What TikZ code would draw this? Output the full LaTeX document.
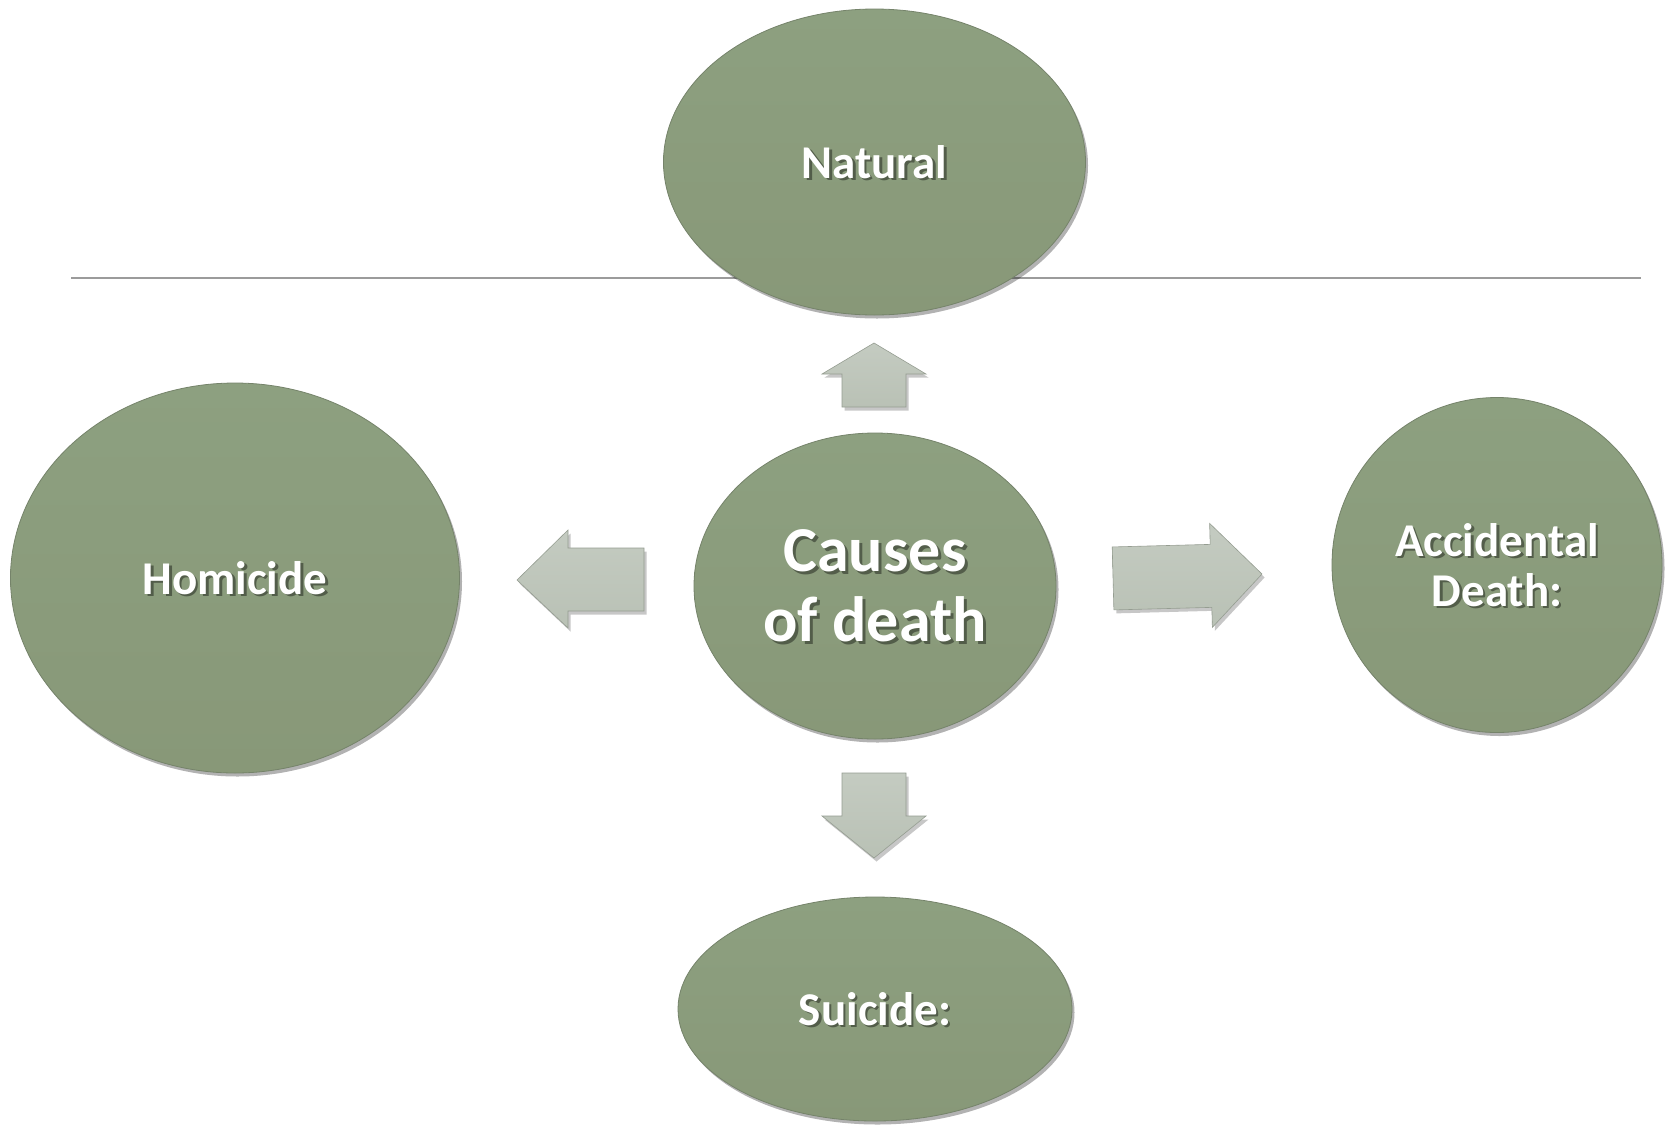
\documentclass[tikz,border=0pt]{standalone}
\usepackage{fontspec}
\setmainfont{Carlito}
\usetikzlibrary{shapes.geometric,shadows}
\definecolor{sagetop}{HTML}{8DA080}
\definecolor{sagebot}{HTML}{889878}
\definecolor{sageedge}{HTML}{75836A}
\definecolor{arrowlt}{HTML}{C4CBC1}
\definecolor{arrowdk}{HTML}{B9C1B5}
\definecolor{arrowedge}{HTML}{959D91}
\definecolor{rulegray}{HTML}{9B9B9B}
\begin{document}
\begin{tikzpicture}[x=1bp,y=-1bp,
  bubble/.style={ellipse, inner sep=0pt, top color=sagetop, bottom color=sagebot,
    draw=sageedge, line width=0.8bp,
    drop shadow={shadow xshift=2.5bp, shadow yshift=-3.5bp, opacity=0.3, fill=black}},
  lbl/.style={font=\bfseries\fontsize{47bp}{50bp}\selectfont, text=white, align=center, inner sep=0pt},
  biglbl/.style={font=\bfseries\fontsize{64bp}{70bp}\selectfont, text=white, align=center, inner sep=0pt},
  lblsh/.style={text=black, opacity=0.4},
  barrow/.style={top color=arrowlt, bottom color=arrowdk, draw=arrowedge, line width=0.6bp},
  barrowsh/.style={fill=black, opacity=0.22}
]
\useasboundingbox (0,0) rectangle (1669,1127);
\fill[white] (0,0) rectangle (1669,1127);

% horizontal rule
\coordinate (ruleL) at (71,278);
\coordinate (ruleR) at (1641,278);
\draw[rulegray, line width=1.4bp] (ruleL) -- (ruleR);

% bubbles
\node[bubble, minimum width=422bp, minimum height=306bp] (nat) at (874.5,162) {};
\node[bubble, minimum width=449bp, minimum height=390bp] (hom) at (235,578) {};
\node[bubble, minimum width=362bp, minimum height=306bp] (cod) at (875,586) {};
\node[bubble, minimum width=330bp, minimum height=335bp] (acc) at (1497,565) {};
\node[bubble, minimum width=394bp, minimum height=224bp] (sui) at (875,1009) {};

% labels (shadow + text)
\node[lbl, lblsh] (natS) at ([shift={(2.5,2.5)}]nat.center) {Natural};
\node[lbl] (natT) at (nat.center) {Natural};
\node[lbl, lblsh] (homS) at ([shift={(2.5,2.5)}]hom.center) {Homicide};
\node[lbl] (homT) at (hom.center) {Homicide};
\node[biglbl, lblsh] (codS) at ([shift={(3,3)}]cod.center) {Causes\\of death};
\node[biglbl] (codT) at (cod.center) {Causes\\of death};
\node[lbl, lblsh] (accS) at ([shift={(2.5,2.5)}]acc.center) {Accidental\\Death:};
\node[lbl] (accT) at (acc.center) {Accidental\\Death:};
\node[lbl, lblsh] (suiS) at ([shift={(2.5,2.5)}]sui.center) {Suicide:};
\node[lbl] (suiT) at (sui.center) {Suicide:};

% block arrows: up
\path[barrowsh, shift={(2.5,3.5)}] (842,407) -- (842,374) -- (822,374) -- (874,343) -- (926,374) -- (906,374) -- (906,407) -- cycle;
\path[barrow] (842,407) -- (842,374) -- (822,374) -- (874,343) -- (926,374) -- (906,374) -- (906,407) -- cycle;
% down
\path[barrowsh, shift={(2.5,3.5)}] (842,773) -- (906,773) -- (906,816) -- (926,816) -- (874,858) -- (822,816) -- (842,816) -- cycle;
\path[barrow] (842,773) -- (906,773) -- (906,816) -- (926,816) -- (874,858) -- (822,816) -- (842,816) -- cycle;
% left
\path[barrowsh, shift={(2.5,3.5)}] (644,548) -- (568,548) -- (568,530) -- (517,580) -- (568,628) -- (568,611) -- (644,611) -- cycle;
\path[barrow] (644,548) -- (568,548) -- (568,530) -- (517,580) -- (568,628) -- (568,611) -- (644,611) -- cycle;
% right (slightly tilted)
\begin{scope}[rotate around={1.5:(1187,576)}]
\path[barrowsh, shift={(2.5,3.5)}] (1113,545) -- (1211,545) -- (1211,524) -- (1262,576) -- (1211,628) -- (1211,608) -- (1113,608) -- cycle;
\path[barrow] (1113,545) -- (1211,545) -- (1211,524) -- (1262,576) -- (1211,628) -- (1211,608) -- (1113,608) -- cycle;
\end{scope}
\end{tikzpicture}
\end{document}
